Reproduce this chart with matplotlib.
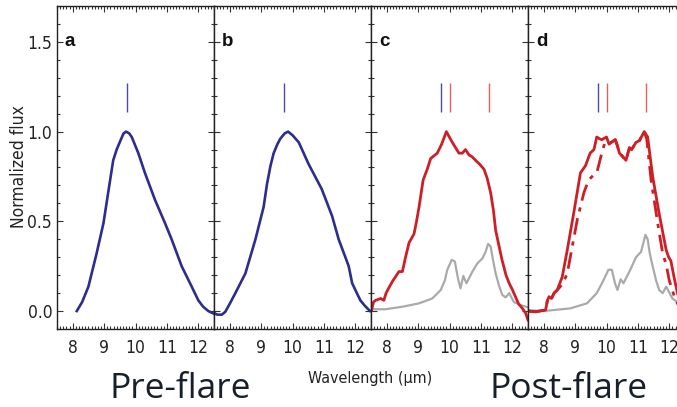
import numpy as np
import matplotlib.pyplot as plt
from matplotlib.ticker import MultipleLocator

# panel a: pre-flare spectrum
wl_a = [8.13, 8.30, 8.50, 8.76, 8.98, 9.13, 9.29, 9.40, 9.52, 9.62, 9.70, 9.80, 9.88,
        10.09, 10.30, 10.62, 10.94, 11.15, 11.47, 11.79, 12.00, 12.15, 12.32, 12.50]
flux_a = [0.0, 0.05, 0.136, 0.32, 0.49, 0.66, 0.84, 0.90, 0.95, 0.99, 1.0, 0.99, 0.97,
          0.88, 0.77, 0.62, 0.49, 0.40, 0.25, 0.136, 0.06, 0.025, 0.0, -0.015]

# panel b: pre-flare spectrum
wl_b = [7.50, 7.60, 7.75, 7.86, 8.00, 8.18, 8.50, 8.82, 9.08, 9.19, 9.30, 9.40, 9.52,
        9.61, 9.75, 9.86, 10.00, 10.20, 10.51, 10.93, 11.26, 11.47, 11.79, 11.90,
        12.05, 12.16, 12.30, 12.47]
flux_b = [-0.01, -0.02, -0.02, -0.004, 0.04, 0.10, 0.21, 0.40, 0.58, 0.71, 0.81, 0.88,
          0.93, 0.96, 0.99, 1.0, 0.98, 0.94, 0.82, 0.68, 0.53, 0.40, 0.25, 0.155,
          0.10, 0.06, 0.03, 0.0]

# panel c: post-flare spectrum + model (gray)
wl_c = [7.52, 7.58, 7.65, 7.81, 7.91, 7.98, 8.07, 8.20, 8.39, 8.50, 8.60, 8.71, 8.87,
        8.95, 9.03, 9.16, 9.29, 9.40, 9.61, 9.75, 9.90, 10.09, 10.30, 10.41, 10.51,
        10.62, 10.72, 10.83, 10.95, 11.10, 11.20, 11.31, 11.40, 11.47, 11.58, 11.68,
        11.80, 11.90, 12.00, 12.10, 12.20, 12.32, 12.42, 12.50]
flux_c = [0.006, 0.05, 0.06, 0.07, 0.06, 0.10, 0.13, 0.17, 0.22, 0.22, 0.30, 0.38, 0.43,
          0.50, 0.58, 0.73, 0.79, 0.85, 0.88, 0.93, 1.0, 0.94, 0.88, 0.88, 0.90,
          0.87, 0.86, 0.84, 0.82, 0.79, 0.74, 0.66, 0.56, 0.45, 0.36, 0.28,
          0.20, 0.155, 0.12, 0.08, 0.04, 0.015, -0.01, -0.05]
wl_gc = [7.53, 7.95, 8.50, 9.03, 9.45, 9.72, 9.85, 9.93, 10.07, 10.17, 10.23, 10.28,
         10.35, 10.44, 10.54, 10.73, 10.89, 11.05, 11.15, 11.23, 11.31, 11.38, 11.47,
         11.58, 11.68, 11.79, 11.90, 12.05, 12.26, 12.51]
model_c = [0.01, 0.01, 0.024, 0.043, 0.07, 0.117, 0.17, 0.23, 0.285, 0.276, 0.22, 0.173,
           0.127, 0.196, 0.155, 0.22, 0.266, 0.294, 0.33, 0.374, 0.36, 0.29, 0.21,
           0.14, 0.09, 0.076, 0.10, 0.05, 0.034, 0.02]

# panel d: post-flare spectra (solid, dash-dot) + model (gray)
wl_d = [7.50, 7.74, 8.06, 8.12, 8.17, 8.25, 8.33, 8.43, 8.59, 8.75, 8.96, 9.17, 9.33,
        9.48, 9.60, 9.69, 9.78, 9.85, 10.00, 10.08, 10.15, 10.28, 10.35, 10.41, 10.52,
        10.62, 10.73, 10.80, 10.94, 11.05, 11.20, 11.31, 11.47, 11.68, 11.90, 11.98,
        12.05, 12.15, 12.26, 12.45]
flux_d = [0.0, -0.004, 0.006, 0.06, 0.08, 0.07, 0.10, 0.117, 0.19, 0.34, 0.55, 0.77, 0.81,
          0.88, 0.90, 0.97, 0.96, 0.955, 0.97, 0.93, 0.94, 0.955, 0.92, 0.88, 0.86,
          0.84, 0.91, 0.90, 0.94, 0.95, 1.0, 0.97, 0.75, 0.54, 0.34, 0.30,
          0.28, 0.19, 0.10, 0.0]
wl_d2 = [7.50, 7.74, 8.06, 8.12, 8.17, 8.25, 8.33, 8.43, 8.60, 8.75, 8.91, 9.07, 9.28,
         9.43, 9.60, 9.69, 9.85, 9.95, 10.08, 10.15, 10.28, 10.35, 10.41, 10.52, 10.62,
         10.73, 10.80, 10.94, 11.05, 11.20, 11.28, 11.42, 11.63, 11.79, 11.90, 12.00,
         12.20, 12.40]
flux_d2 = [0.0, -0.004, 0.006, 0.06, 0.08, 0.07, 0.10, 0.117, 0.15, 0.21, 0.36, 0.51,
           0.66, 0.73, 0.76, 0.77, 0.88, 0.94, 0.93, 0.94, 0.955, 0.92, 0.88, 0.86,
           0.84, 0.91, 0.90, 0.94, 0.95, 1.0, 0.96, 0.73, 0.49, 0.32, 0.26, 0.17,
           0.06, 0.0]
wl_gd = [7.50, 8.00, 8.85, 9.38, 9.69, 9.90, 10.06, 10.17, 10.27, 10.35, 10.45, 10.54,
         10.73, 10.94, 11.10, 11.24, 11.31, 11.38, 11.47, 11.58, 11.68, 11.79, 11.90,
         12.10, 12.26, 12.50]
model_d = [0.005, 0.0, 0.015, 0.043, 0.10, 0.17, 0.23, 0.23, 0.155, 0.117, 0.177, 0.155,
           0.22, 0.30, 0.33, 0.425, 0.40, 0.32, 0.25, 0.17, 0.117, 0.10, 0.136,
           0.07, 0.05, 0.03]

# feature markers
pre_marks = [9.72]
post_marks_blue = [9.72]
post_marks_red = [10.0, 11.25]

blue = '#2e2c8c'
red = '#cc1f26'
gray = '#aaaaaa'

plt.rcParams['font.family'] = ['Liberation Sans Narrow', 'DejaVu Sans']
plt.rcParams['font.stretch'] = 'condensed'

fig = plt.figure(figsize=(6.77, 4.07), dpi=100)
left, bottom, w, h = 57 / 677, 1 - 329 / 407, 157 / 677, 323 / 407
axes = [fig.add_axes([left + i * w, bottom, w, h]) for i in range(4)]

for i, (ax, lab) in enumerate(zip(axes, 'abcd')):
    ax.set_xlim(7.5, 12.5)
    ax.set_ylim(-0.1, 1.7)
    ax.xaxis.set_major_locator(MultipleLocator(1))
    ax.xaxis.set_minor_locator(MultipleLocator(0.1))
    ax.yaxis.set_major_locator(MultipleLocator(0.5))
    ax.yaxis.set_minor_locator(MultipleLocator(0.1))
    ax.tick_params(which='both', direction='in', top=True, right=True,
                   width=0.8, colors='#333333', labelcolor='#222222', labelsize=12.5)
    ax.tick_params(which='major', length=4)
    ax.tick_params(which='minor', length=2)
    ax.tick_params(axis='x', pad=7)
    for s in ax.spines.values():
        s.set_linewidth(1.0)
        s.set_color('#222222')
    if i > 0:
        ax.set_yticklabels([])
    else:
        ax.set_yticks([0.0, 0.5, 1.0, 1.5])
        ax.set_yticklabels(['0.0', '0.5', '1.0', '1.5'])
    ax.text(0.05, 0.875, lab, transform=ax.transAxes, fontsize=13.5,
            fontweight='bold', color='#111111', family='Liberation Sans')

axes[0].plot(wl_a, flux_a, color=blue, lw=1.9)
axes[1].plot(wl_b, flux_b, color=blue, lw=1.9)
axes[2].plot(wl_gc, model_c, color=gray, lw=1.6)
axes[2].plot(wl_c, flux_c, color=red, lw=2.0)
axes[3].plot(wl_gd, model_d, color=gray, lw=1.6)
axes[3].plot(wl_d2, flux_d2, color=red, lw=2.0, ls=(0, (6, 2.5, 1.5, 2.5)))
axes[3].plot(wl_d, flux_d, color=red, lw=2.0)

for ax in axes[:2]:
    ax.vlines(pre_marks, 1.11, 1.27, color='#4a4aa8', lw=1.0)
for ax in axes[2:]:
    ax.vlines(post_marks_blue, 1.11, 1.27, color='#4a4aa8', lw=1.0)
    ax.vlines(post_marks_red, 1.11, 1.27, color='#e06060', lw=1.0)

fig.text(19 / 677, 1 - 167 / 407, 'Normalized flux', rotation=90, ha='center',
         va='center', fontsize=12.5, color='#222222')
fig.text(370 / 677, 1 - 378 / 407, 'Wavelength (\u00b5m)', ha='center', va='center',
         fontsize=11.5, color='#222222')
fig.text(180 / 677, 1 - 398 / 407, 'Pre-flare', ha='center', va='baseline',
         fontsize=25.5, color='#17202a', family='Open Sans', stretch='normal')
fig.text(569 / 677, 1 - 398 / 407, 'Post-flare', ha='center', va='baseline',
         fontsize=25.5, color='#17202a', family='Open Sans', stretch='normal')

fig.savefig('out.png', dpi=100)
